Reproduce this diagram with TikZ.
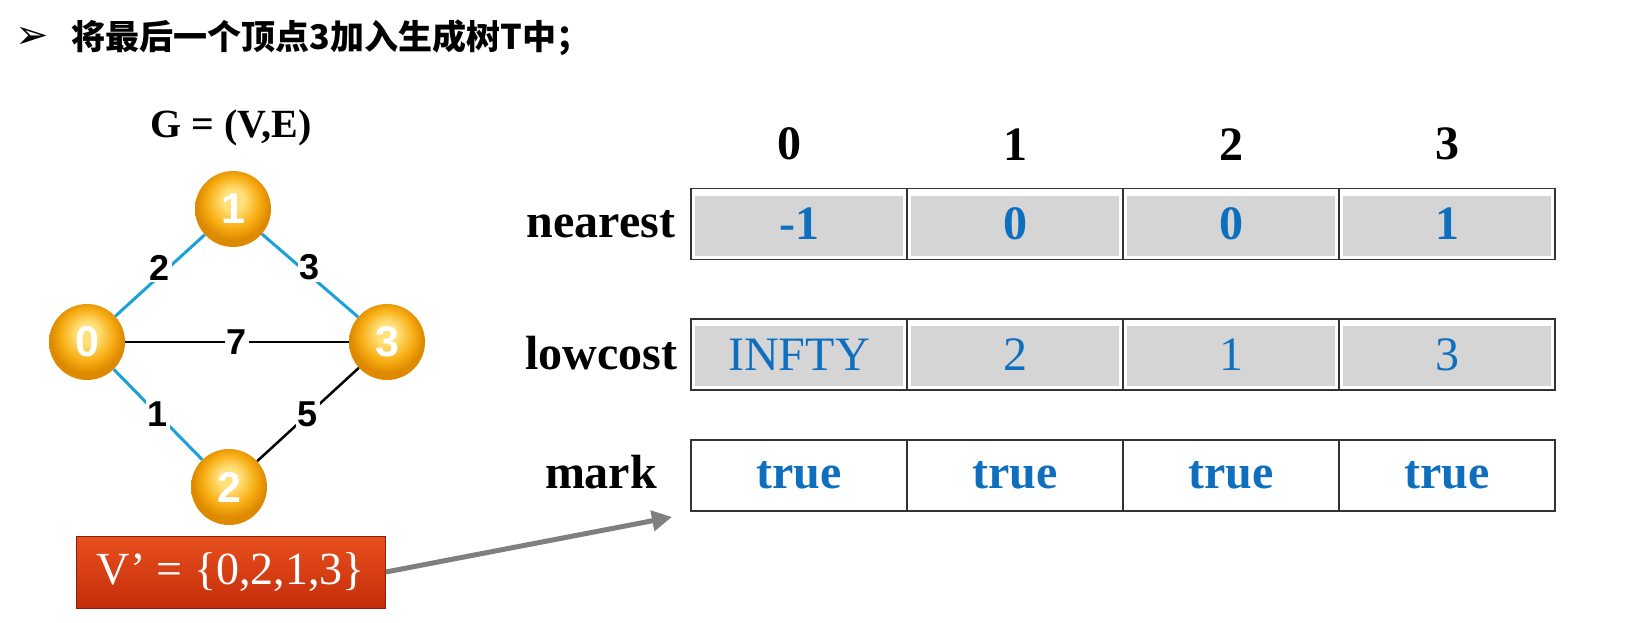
\documentclass[tikz,border=0pt]{standalone}
\usepackage{fontspec}
\setmainfont{Liberation Serif}
\newfontfamily\arialfont{Liberation Sans}
\newfontfamily\cjkfont{Noto Sans CJK SC}
\newfontfamily\symfont{DejaVu Sans}
\usetikzlibrary{positioning,arrows.meta}

\definecolor{nodelight}{HTML}{FFE07A}
\definecolor{nodeorange}{HTML}{F8AE14}
\definecolor{noderim}{HTML}{DE8A00}
\definecolor{edgeblue}{HTML}{1BA0DA}
\definecolor{valblue}{HTML}{0E6FBF}
\definecolor{cellgray}{HTML}{D5D5D5}
\definecolor{cellline}{HTML}{333333}
\definecolor{boxtop}{HTML}{E8501E}
\definecolor{boxbottom}{HTML}{C42C0A}
\definecolor{arrowgray}{HTML}{7F7F7F}

\pgfdeclareradialshading{glossy}{\pgfpoint{0bp}{7bp}}{color(0bp)=(nodelight);
  color(7bp)=(nodelight); color(17bp)=(nodeorange); color(24bp)=(noderim); color(50bp)=(noderim)}

\begin{document}
\begin{tikzpicture}[x=1pt,y=-1pt,
  vertex/.style={circle,minimum size=76pt,inner sep=0pt,shade,shading=glossy,
    text=white,font=\arialfont\bfseries\fontsize{43}{43}\selectfont},
  weight/.style={fill=white,text=black,inner sep=2pt,font=\arialfont\bfseries\fontsize{36}{36}\selectfont},
  tree/.style={edgeblue,line width=3pt},
  nontree/.style={black,line width=2.5pt},
  cellbox/.style={draw=cellline,line width=1.8pt,minimum width=216pt,minimum height=71pt,
    inner sep=0pt,text=valblue,font=\bfseries\fontsize{48}{48}\selectfont},
  graycell/.style={cellbox,path picture={
    \fill[cellgray] ([shift={(4pt,-7pt)}]path picture bounding box.north west)
      rectangle ([shift={(-4pt,4pt)}]path picture bounding box.south east);}},
  rowname/.style={font=\bfseries\fontsize{48}{48}\selectfont},
  vbox/.style={draw=boxbottom!70!black,line width=1pt,top color=boxtop,bottom color=boxbottom,text=white,
    minimum width=309pt,minimum height=72pt,font=\fontsize{46}{46}\selectfont},
  pointer/.style={arrowgray,line width=5pt,-{Triangle[length=20pt,width=20pt]}}]
  \useasboundingbox (0,0) rectangle (1646,623);

  % title line
  \node[anchor=west,font=\symfont\fontsize{40}{40}\selectfont] (bullet) at (12,38) {➢};
  \node[anchor=west,font=\cjkfont\bfseries\fontsize{34}{34}\selectfont] (title) at (68,38) {将最后一个顶点3加入生成树T中；};

  % graph
  \node[font=\bfseries\fontsize{40}{40}\selectfont] (gname) at (231,128) {G = (V,E)};
  \node[vertex] (v0) at (87,342) {0};
  \node[vertex] (v1) at (233,209) {1};
  \node[vertex] (v3) at (387,342) {3};
  \node[vertex] (v2) at (229,487) {2};
  \draw[tree] (v0) -- node[weight,yshift=8pt] (w01) {2} (v1);
  \draw[tree] (v1) -- node[weight,yshift=8pt] (w13) {3} (v3);
  \draw[nontree] (v0) -- node[weight] (w03) {7} (v3);
  \draw[tree] (v0) -- node[weight] (w02) {1} (v2);
  \draw[nontree] (v2) -- node[weight] (w23) {5} (v3);

  % arrays
  \node[graycell] (n0) at (799,224) {-1};
  \node[graycell,right=-1.8pt of n0] (n1) {0};
  \node[graycell,right=-1.8pt of n1] (n2) {0};
  \node[graycell,right=-1.8pt of n2] (n3) {1};

  \node[graycell,below=58pt of n0,font=\fontsize{48}{48}\selectfont] (c0) {INFTY};
  \node[graycell,right=-1.8pt of c0,font=\fontsize{48}{48}\selectfont] (c1) {2};
  \node[graycell,right=-1.8pt of c1,font=\fontsize{48}{48}\selectfont] (c2) {1};
  \node[graycell,right=-1.8pt of c2,font=\fontsize{48}{48}\selectfont] (c3) {3};

  \node[cellbox,below=48pt of c0] (m0) {true};
  \node[cellbox,right=-1.8pt of m0] (m1) {true};
  \node[cellbox,right=-1.8pt of m1] (m2) {true};
  \node[cellbox,right=-1.8pt of m2] (m3) {true};

  \node[rowname,above=24pt of n0,xshift=-10pt] (h0) {0};
  \node[rowname,above=24pt of n1] (h1) {1};
  \node[rowname,above=24pt of n2] (h2) {2};
  \node[rowname,above=24pt of n3] (h3) {3};

  \node[rowname] (lnear) at (601,224) {nearest};
  \node[rowname] (lcost) at (601,353) {lowcost};
  \node[rowname] (lmark) at (601,472) {mark};

  % V' set
  \node[vbox] (vset) at (231,572) {V’ = \{0,2,1,3\}};
  \coordinate (tip) at (672,517);
  \draw[pointer] (vset.east) -- (tip);
\end{tikzpicture}
\end{document}
